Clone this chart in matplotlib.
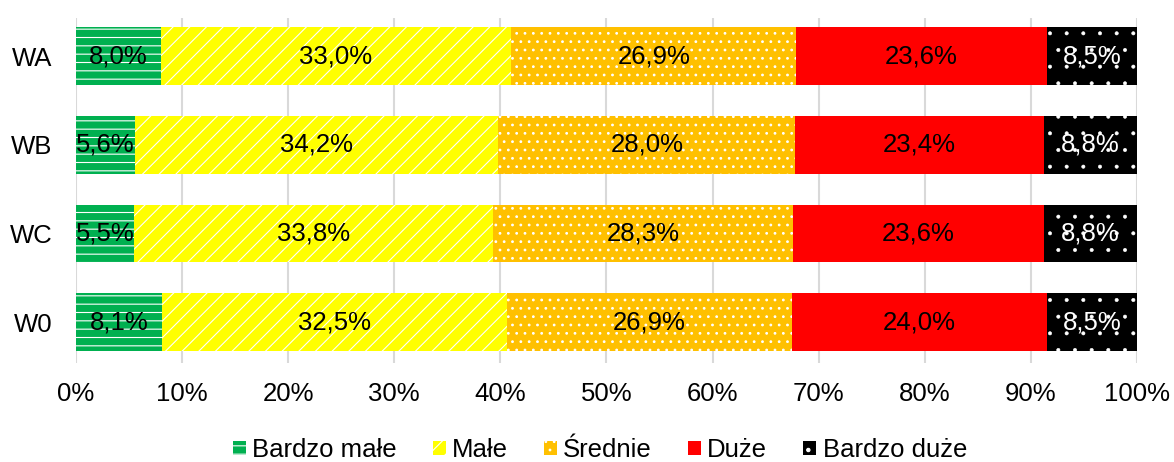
import matplotlib
matplotlib.use("Agg")
import matplotlib.pyplot as plt
import numpy as np

plt.rcParams['font.family'] = ['Liberation Sans', 'DejaVu Sans']
plt.rcParams['hatch.linewidth'] = 0.8

categories = ['WA', 'WB', 'WC', 'W0']
series_names = ['Bardzo małe', 'Małe', 'Średnie', 'Duże', 'Bardzo duże']
bardzo_male = [8.0, 5.6, 5.5, 8.1]
male = [33.0, 34.2, 33.8, 32.5]
srednie = [26.9, 28.0, 28.3, 26.9]
duze = [23.6, 23.4, 23.6, 24.0]
bardzo_duze = [8.5, 8.8, 8.8, 8.5]
x_ticks = [0, 10, 20, 30, 40, 50, 60, 70, 80, 90, 100]

series = [bardzo_male, male, srednie, duze, bardzo_duze]
colors = ['#00B050', '#FFFF00', '#FFC000', '#FF0000', '#000000']
hatches = ['--', '//', '..', None, '.']
text_colors = ['black', 'black', 'black', 'black', 'white']

fig = plt.figure(figsize=(11.74, 4.62), dpi=100)
ax = fig.add_axes([0.0647, 0.2143, 0.9038, 0.7467])

ypos = np.arange(len(categories))[::-1]
left = np.zeros(len(categories))
for name, vals, col, hat, tcol in zip(series_names, series, colors, hatches, text_colors):
    vals = np.array(vals)
    bars = ax.barh(ypos, vals, left=left, height=0.65, color=col,
                   edgecolor='white' if hat else col, linewidth=0,
                   hatch=hat, label=name, zorder=2)
    if hat == '.':
        for b in bars:
            b.set_hatch_linewidth(0.4)
    for y, l, v in zip(ypos, left, vals):
        ax.text(l + v / 2, y, f"{v:.1f}%".replace('.', ','), ha='center',
                va='center', fontsize=18.5, color=tcol, zorder=3)
    left += vals

ax.set_xlim(0, 100)
ax.set_ylim(-0.46, 3.43)
ax.set_xticks(x_ticks)
ax.set_xticklabels([f"{t}%" for t in x_ticks], fontsize=18.5)
ax.set_yticks(ypos)
ax.set_yticklabels(categories, fontsize=18.5)
ax.tick_params(axis='x', length=0, pad=14)
ax.tick_params(axis='y', length=0, pad=17)
ax.xaxis.grid(True, color='#D9D9D9', linewidth=1.5, zorder=0)
ax.set_axisbelow(True)
for s in ax.spines.values():
    s.set_visible(False)

fig.legend(loc='center', bbox_to_anchor=(0.511, 0.026), ncol=5, frameon=False,
           fontsize=18.5, handlelength=0.5, handleheight=0.5, handletextpad=0.25,
           columnspacing=1.4)

fig.savefig('out.png', dpi=100)
